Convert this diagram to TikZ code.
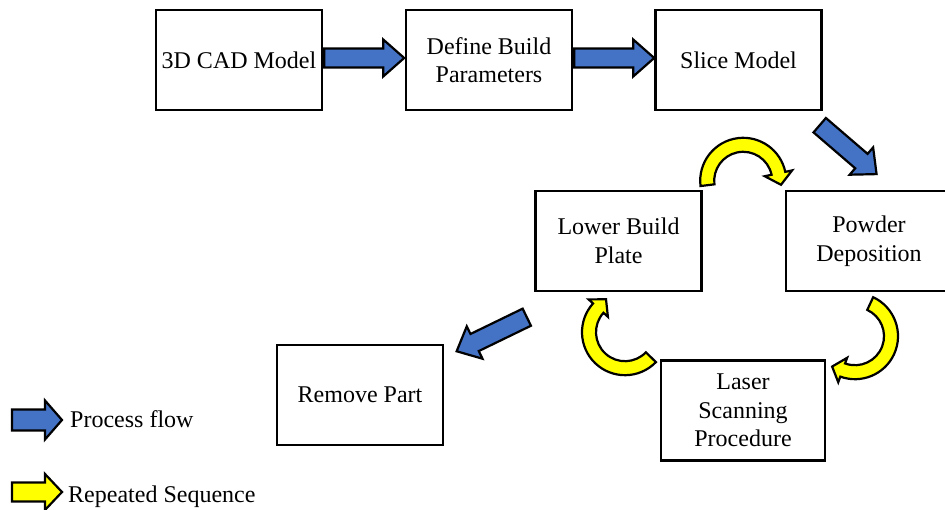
\documentclass[tikz,border=0pt]{standalone}
\usepackage{fontspec}
\setmainfont{Liberation Serif}
\usetikzlibrary{calc}
\definecolor{flowblue}{HTML}{4472C4}
\definecolor{loopyellow}{HTML}{FFFF00}
\tikzset{
  stepbox/.style={draw=black, line width=2.4pt, minimum width=166pt, minimum height=100pt,
    align=center, inner sep=0pt, font=\fontsize{24}{28.5}\selectfont},
  flowarrow/.style={fill=flowblue, draw=black, line width=2.2pt, line join=miter},
  looparrow/.style={fill=loopyellow, draw=black, line width=2.2pt, line join=miter},
  legendtext/.style={font=\fontsize{24}{28.5}\selectfont, inner sep=0pt, anchor=base west}
}
% straight block arrow: style, tail point, direction, length, shaft half width, head half width, head length
\newcommand{\blockarrow}[7]{%
  \begin{scope}[shift={#2}, rotate=#3]
    \filldraw[#1] (0,-#5) -- ({#4-#7},-#5) -- ({#4-#7},-#6) -- (#4,0)
      -- ({#4-#7},#6) -- ({#4-#7},#5) -- (0,#5) -- cycle;
  \end{scope}}
% circular block arrow: centre, mid radius, half thickness, start angle, head angle, tip angle, head half width
\newcommand{\looparrow}[7]{%
  \filldraw[looparrow] ($#1+(#4:{#2+#3})$) arc[start angle=#4, end angle=#5, radius={#2+#3}]
    -- ($#1+(#5:{#2+#7})$) -- ($#1+(#6:{#2+2})$) -- ($#1+(#5:{#2-#7})$)
    -- ($#1+(#5:{#2-#3})$) arc[start angle=#5, end angle=#4, radius={#2-#3}] -- cycle;}

\begin{document}
\begin{tikzpicture}[x=1pt, y=1pt]
  \useasboundingbox (0,0) rectangle (945,509);
  \clip (0,0) rectangle (945,509);

  % process steps
  \node[stepbox] (cad)    at (239,449)   {3D CAD Model};
  \node[stepbox] (params) at (489,449)   {Define Build\\Parameters};
  \node[stepbox] (slice)  at (738.5,449) {Slice Model};
  \node[stepbox] (powder) at (869,268)   {Powder\\Deposition};
  \node[stepbox] (lower)  at (618.5,268) {Lower Build\\Plate};
  \node[stepbox, minimum width=164pt] (laser) at (743,98.5) {Laser\\Scanning\\Procedure};
  \node[stepbox] (remove) at (360,114)   {Remove Part};

  % process flow
  \blockarrow{flowarrow}{($(cad.east)+(1,2)$)}{0}{80}{9.5}{18.5}{21}
  \blockarrow{flowarrow}{($(params.east)+(1,2)$)}{0}{80}{9.5}{18.5}{21}
  \blockarrow{flowarrow}{($(slice.south east)+(-3,-14)$)}{-40.7}{75}{9.5}{18}{20}
  \blockarrow{flowarrow}{($(lower.south west)+(-7.5,-25)$)}{205.9}{78}{9.5}{18}{20}

  % repeated layer sequence
  \coordinate (loopA) at ($(lower.north east)+(40.5,9)$);
  \coordinate (loopB) at ($(powder.south)+(-14,-44)$);
  \coordinate (loopC) at ($(lower.south)+(6.5,-40)$);
  \looparrow{(loopA)}{36}{7}{187}{12}{-6}{14}
  \looparrow{(loopB)}{36}{7}{65}{-110}{-127}{13}
  \looparrow{(loopC)}{36}{7}{-44}{-222}{-240}{13}

  % legend
  \node[legendtext] (flowlabel) at (70,82) {Process flow};
  \node[legendtext] (looplabel) at (68,7)  {Repeated Sequence};
  \blockarrow{flowarrow}{($(flowlabel.base west)+(-58,7)$)}{0}{50}{10.5}{19.5}{17}
  \blockarrow{looparrow}{($(looplabel.base west)+(-56,10)$)}{0}{50}{9.5}{18}{17}
\end{tikzpicture}
\end{document}
